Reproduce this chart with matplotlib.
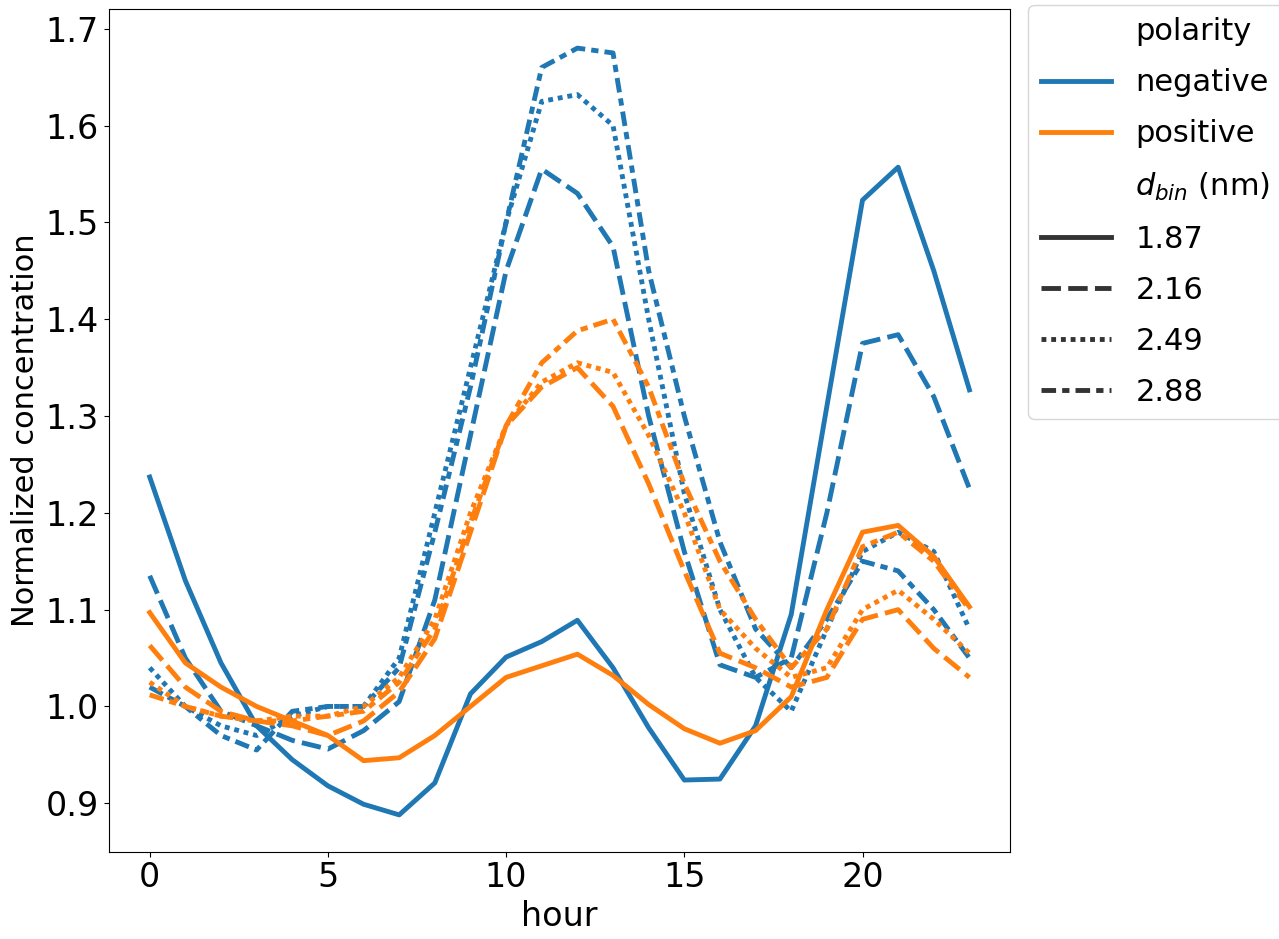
import matplotlib
matplotlib.use("Agg")
import matplotlib.pyplot as plt
from matplotlib.lines import Line2D

hours = list(range(24))
bins = ["1.87", "2.16", "2.49", "2.88"]
neg = {
 "1.87": [1.237,1.13,1.045,0.98,0.945,0.918,0.899,0.888,0.921,1.013,1.051,1.067,1.089,1.04,0.978,0.924,0.925,0.98,1.095,1.31,1.523,1.557,1.45,1.327],
 "2.16": [1.135,1.05,0.995,0.98,0.965,0.956,0.975,1.005,1.11,1.28,1.45,1.555,1.53,1.475,1.3,1.16,1.043,1.03,1.05,1.2,1.375,1.384,1.32,1.225],
 "2.49": [1.04,1.0,0.98,0.97,0.99,1.0,1.0,1.05,1.2,1.35,1.5,1.625,1.632,1.6,1.4,1.22,1.1,1.03,0.995,1.08,1.16,1.18,1.16,1.08],
 "2.88": [1.02,1.0,0.97,0.955,0.995,1.0,1.0,1.04,1.18,1.33,1.5,1.66,1.68,1.675,1.45,1.3,1.17,1.08,1.04,1.09,1.15,1.14,1.1,1.05],
}
pos = {
 "1.87": [1.097,1.045,1.02,1.0,0.985,0.97,0.944,0.947,0.97,1.0,1.03,1.042,1.054,1.032,1.002,0.977,0.962,0.975,1.01,1.1,1.18,1.187,1.155,1.103],
 "2.16": [1.063,1.02,0.995,0.985,0.98,0.97,0.985,1.015,1.07,1.18,1.29,1.33,1.35,1.31,1.23,1.14,1.055,1.04,1.02,1.03,1.09,1.1,1.06,1.03],
 "2.49": [1.025,1.0,0.99,0.985,0.99,0.99,1.0,1.03,1.09,1.2,1.29,1.335,1.355,1.345,1.28,1.2,1.1,1.06,1.03,1.04,1.1,1.12,1.09,1.055],
 "2.88": [1.012,1.0,0.99,0.985,0.985,0.99,0.995,1.025,1.08,1.19,1.29,1.355,1.388,1.4,1.33,1.23,1.15,1.09,1.04,1.08,1.165,1.18,1.15,1.1],
}
dashes = {"1.87": (None), "2.16": (4, 1.5), "2.49": (1, 1), "2.88": (3, 1.25, 1.5, 1.25)}
colors = {"negative": "#1f77b4", "positive": "#ff7f0e"}
lw = 3.5

fig = plt.figure(figsize=(12.79, 9.39), dpi=100)
ax = fig.add_axes([0.085, 0.093, 0.705, 0.897])
for pol, data in (("negative", neg), ("positive", pos)):
    for b in bins:
        ln, = ax.plot(hours, data[b], color=colors[pol], lw=lw)
        if dashes[b]:
            ln.set_dashes(dashes[b])
ax.set_xlim(-1.15, 24.15)
ax.set_ylim(0.85, 1.72)
ax.set_xticks([0, 5, 10, 15, 20])
ax.set_yticks([0.9, 1.0, 1.1, 1.2, 1.3, 1.4, 1.5, 1.6, 1.7])
ax.tick_params(labelsize=24)
ax.set_xlabel("hour", fontsize=24)
ax.set_ylabel("Normalized concentration", fontsize=22)

handles = [Line2D([], [], color="none"),
           Line2D([], [], color=colors["negative"], lw=lw),
           Line2D([], [], color=colors["positive"], lw=lw),
           Line2D([], [], color="none")]
labels = ["polarity", "negative", "positive", r"$d_{bin}$ (nm)"]
for b in bins:
    l = Line2D([], [], color="#333333", lw=lw)
    if dashes[b]:
        l.set_dashes(dashes[b])
    handles.append(l)
    labels.append(b)
ax.legend(handles, labels, loc="upper left", bbox_to_anchor=(1.02, 1.005),
          fontsize=22, borderaxespad=0, handlelength=2.3, labelspacing=0.72)
fig.savefig("out.png", dpi=100)
